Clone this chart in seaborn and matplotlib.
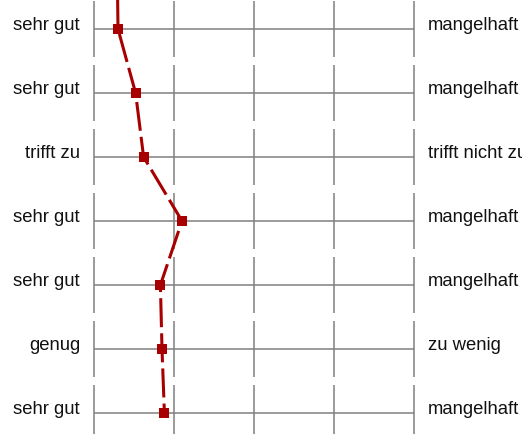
import matplotlib
matplotlib.use("Agg")
import matplotlib.pyplot as plt
import matplotlib.transforms as mtransforms
import pandas as pd
import seaborn as sns

# Semantic differential profile: one row per questionnaire item
left_labels = ["sehr gut", "sehr gut", "trifft zu", "sehr gut",
               "sehr gut", "genug", "sehr gut"]
right_labels = ["mangelhaft", "mangelhaft", "trifft nicht zu",
                "mangelhaft", "mangelhaft", "zu wenig", "mangelhaft"]
mean_scores = [1.30, 1.52, 1.62, 2.10, 1.83, 1.85, 1.88]
# score of the item just above this block; the profile line continues from it
previous_score = 1.29
scale_points = [1, 2, 3, 4, 5]

items = list(range(len(mean_scores)))
df = pd.DataFrame({"item": [-1] + items, "score": [previous_score] + mean_scores})

sns.set_theme(style="white")
plt.rcParams["font.family"] = ["Liberation Sans", "DejaVu Sans"]

W, H = 522, 435
fig = plt.figure(figsize=(W / 100, H / 100), dpi=100)
ax = fig.add_axes([94 / W, 0, 320 / W, 1])

row_px = 64.0
top_px = 30
ax.set_xlim(scale_points[0], scale_points[-1])
ax.set_ylim((H - top_px) / row_px, -top_px / row_px)
ax.axis("off")

grid_color = "#808080"
half = 28 / row_px
for r in items:
    ax.hlines(r, scale_points[0], scale_points[-1], color=grid_color,
              lw=1.1, clip_on=False, zorder=1)
    ax.vlines(scale_points, r - half, r + half, color=grid_color,
              lw=1.1, clip_on=False, zorder=1)

sns.lineplot(data=df, x="score", y="item", orient="y", sort=False,
             color="#a80000", lw=2.2, marker="s", markersize=7.2,
             markeredgewidth=0, ax=ax, zorder=3)
ax.lines[-1].set_dashes([9.5, 2.0])
ax.set_xlabel("")
ax.set_ylabel("")

left_tr = mtransforms.blended_transform_factory(ax.transAxes, ax.transData) + \
    mtransforms.ScaledTranslation(-14 / 100, 0, fig.dpi_scale_trans)
right_tr = mtransforms.blended_transform_factory(ax.transAxes, ax.transData) + \
    mtransforms.ScaledTranslation(14 / 100, 0, fig.dpi_scale_trans)

for r, (lt, rt) in enumerate(zip(left_labels, right_labels)):
    ax.text(0, r, lt, transform=left_tr, ha="right", va="baseline",
            fontsize=13.3, color="#111111", clip_on=False)
    ax.text(1, r, rt, transform=right_tr, ha="left", va="baseline",
            fontsize=13.3, color="#111111", clip_on=False)

fig.savefig("out.png", dpi=100)
